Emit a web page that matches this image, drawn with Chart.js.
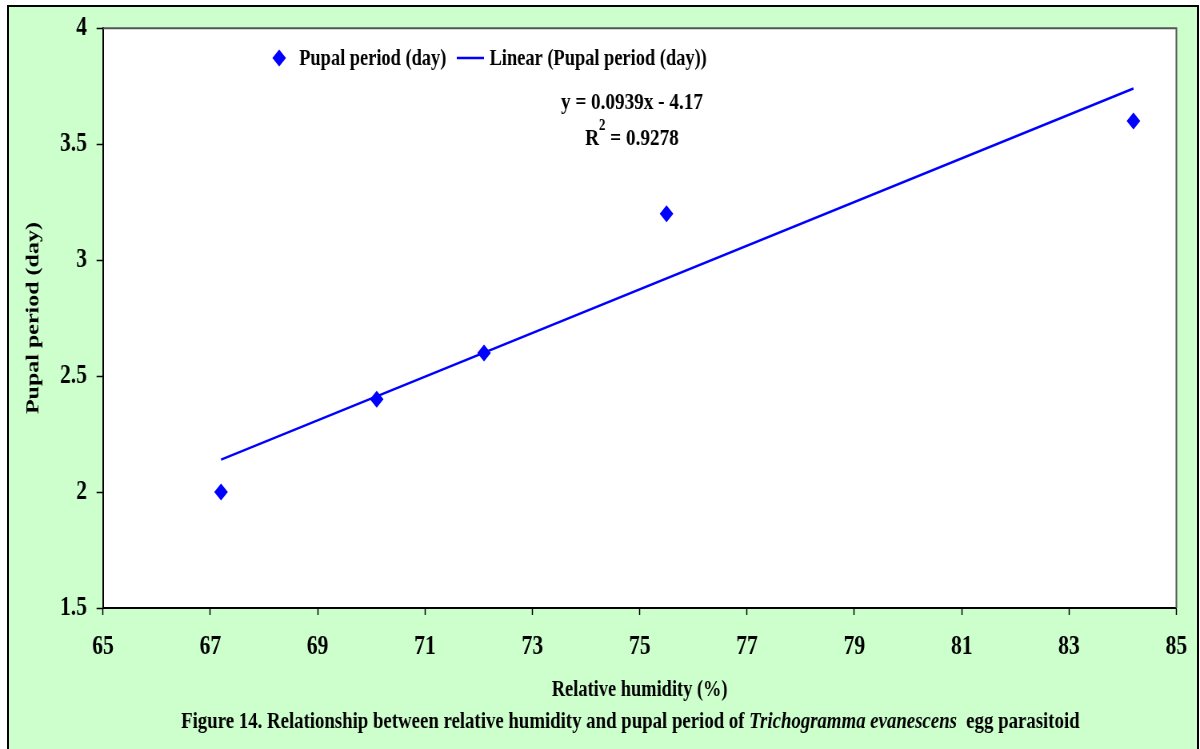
<!DOCTYPE html>
<html>
<head>
<meta charset="utf-8">
<script src="https://cdn.jsdelivr.net/npm/chart.js@4.4.1/dist/chart.umd.min.js"></script>
<style>
  body { margin: 0; background: #fff; }
  #cadre { position: absolute; left: 7px; top: 5px; width: 1188px; height: 800px; border: 2px solid #000; background: #ccffcc; }
  #graph { position: absolute; left: 0; top: 0; }
</style>
</head>
<body>
<div id="cadre"></div>
<!-- drawn 1500 wide then squeezed to 1200: the reference text is condensed -->
<canvas id="graph" width="1500" height="749" style="width:1200px;height:749px"></canvas>
<script>
const humidite = [67.2, 70.1, 72.1, 75.5, 84.2];
const periodePupale = [2.0, 2.4, 2.6, 3.2, 3.6];
const trendX = [67.2, 84.2];
const trendY = [2.14, 3.74];
const xMin = 65, xMax = 85, xStep = 2;
const yMin = 1.5, yMax = 4, yStep = 0.5;

const serie = "Pupal period (day)";
const serieTrend = "Linear (Pupal period (day))";
const equation = "y = 0.0939x - 4.17";
const rCarre = "= 0.9278";
const legende = ["Figure 14. Relationship between relative humidity and pupal period of ", "Trichogramma evanescens", "  egg parasitoid"];

const police = "'Liberation Serif', 'Times New Roman', serif";

function losange(ctx, x, y, r){
    ctx.beginPath();
    ctx.moveTo(x, y - r);
    ctx.lineTo(x + r, y);
    ctx.lineTo(x, y + r);
    ctx.lineTo(x - r, y);
    ctx.closePath();
    ctx.fill();
}

const decor = {
    id: "decor",
    beforeDraw(chart){
        const {ctx, chartArea: a} = chart;
        ctx.save();
        ctx.fillStyle = "#fff";
        ctx.fillRect(a.left, a.top, a.right - a.left, a.bottom - a.top);
        ctx.restore();
    },
    afterDraw(chart){
        const {ctx, chartArea: a} = chart;
        ctx.save();
        // cadre haut / droite
        ctx.strokeStyle = "#555";
        ctx.lineWidth = 2;
        ctx.beginPath();
        ctx.moveTo(a.left, a.top);
        ctx.lineTo(a.right, a.top);
        ctx.lineTo(a.right, a.bottom);
        ctx.stroke();

        // legende
        ctx.fillStyle = "#0000ff";
        losange(ctx, 349, 58, 8.5);
        ctx.strokeStyle = "#0000ff";
        ctx.lineWidth = 2.5;
        ctx.beginPath();
        ctx.moveTo(571, 58);
        ctx.lineTo(605, 58);
        ctx.stroke();
        ctx.fillStyle = "#000";
        ctx.font = "bold 23px " + police;
        ctx.textBaseline = "middle";
        ctx.textAlign = "left";
        ctx.fillText(serie, 374, 59);
        ctx.fillText(serieTrend, 612, 59);

        // equation
        ctx.font = "bold 24px " + police;
        ctx.textAlign = "center";
        ctx.fillText(equation, 790, 103);
        const wR = ctx.measureText("R").width;
        const wRest = ctx.measureText(" " + rCarre).width;
        ctx.font = "bold 16px " + police;
        const w2 = ctx.measureText("2").width;
        const tot = wR + w2 + wRest;
        let x0 = 790 - tot / 2;
        ctx.textAlign = "left";
        ctx.font = "bold 24px " + police;
        ctx.fillText("R", x0, 139);
        ctx.font = "bold 16px " + police;
        ctx.fillText("2", x0 + wR, 126);
        ctx.font = "bold 24px " + police;
        ctx.fillText(" " + rCarre, x0 + wR + w2, 139);

        // titre du bas
        const fonts = ["bold 23.5px " + police, "italic bold 23.5px " + police, "bold 23.5px " + police];
        let total = 0;
        const larg = legende.map((t, i) => { ctx.font = fonts[i]; const w = ctx.measureText(t).width; total += w; return w; });
        let x = 788 - total / 2;
        legende.forEach((t, i) => {
            ctx.font = fonts[i];
            ctx.fillText(t, x, 722);
            x += larg[i];
        });
        ctx.restore();
    }
};

const tickFont = { family: police, size: 27, weight: "bold" };

new Chart(document.getElementById("graph"), {
    type: "scatter",
    data: {
        datasets: [
            {
                label: serie,
                data: humidite.map((h, i) => ({ x: h, y: periodePupale[i] })),
                pointStyle: "rectRot",
                radius: 8.5,
                backgroundColor: "#0000ff",
                borderColor: "#0000ff",
                borderWidth: 0,
            },
            {
                label: serieTrend,
                type: "line",
                data: trendX.map((h, i) => ({ x: h, y: trendY[i] })),
                borderColor: "#0000ff",
                borderWidth: 2.5,
                radius: 0,
                fill: false,
            }
        ]
    },
    options: {
        responsive: false,
        animation: false,
        layout: { padding: { left: 0, top: 26, right: 17.5, bottom: 0 } },
        scales: {
            x: {
                type: "linear",
                min: xMin,
                max: xMax,
                afterFit: (scale) => { scale.height = 141; },
                ticks: { stepSize: xStep, color: "#000", font: tickFont, padding: 16, maxRotation: 0 },
                grid: { drawOnChartArea: false, tickLength: 7, tickColor: "#000", tickWidth: 1.5 },
                border: { color: "#000", width: 2 },
                title: {
                    display: true,
                    text: "Relative humidity (%)",
                    color: "#000",
                    font: { family: police, size: 23, weight: "bold" },
                    padding: { top: 0, bottom: 45 }
                }
            },
            y: {
                min: yMin,
                max: yMax,
                afterFit: (scale) => { scale.width = 128.75; },
                ticks: { stepSize: yStep, color: "#000", font: tickFont, padding: 12, callback: (v) => String(v) },
                grid: { drawOnChartArea: false, tickLength: 8, tickColor: "#000", tickWidth: 1.5 },
                border: { color: "#000", width: 2 },
                title: {
                    display: true,
                    text: "Pupal period (day)",
                    color: "#000",
                    font: { family: police, size: 24, weight: "bold" },
                    padding: { top: 27, bottom: 0 }
                }
            }
        },
        plugins: {
            legend: { display: false },
            tooltip: { enabled: false }
        }
    },
    plugins: [decor]
});
</script>
</body>
</html>
